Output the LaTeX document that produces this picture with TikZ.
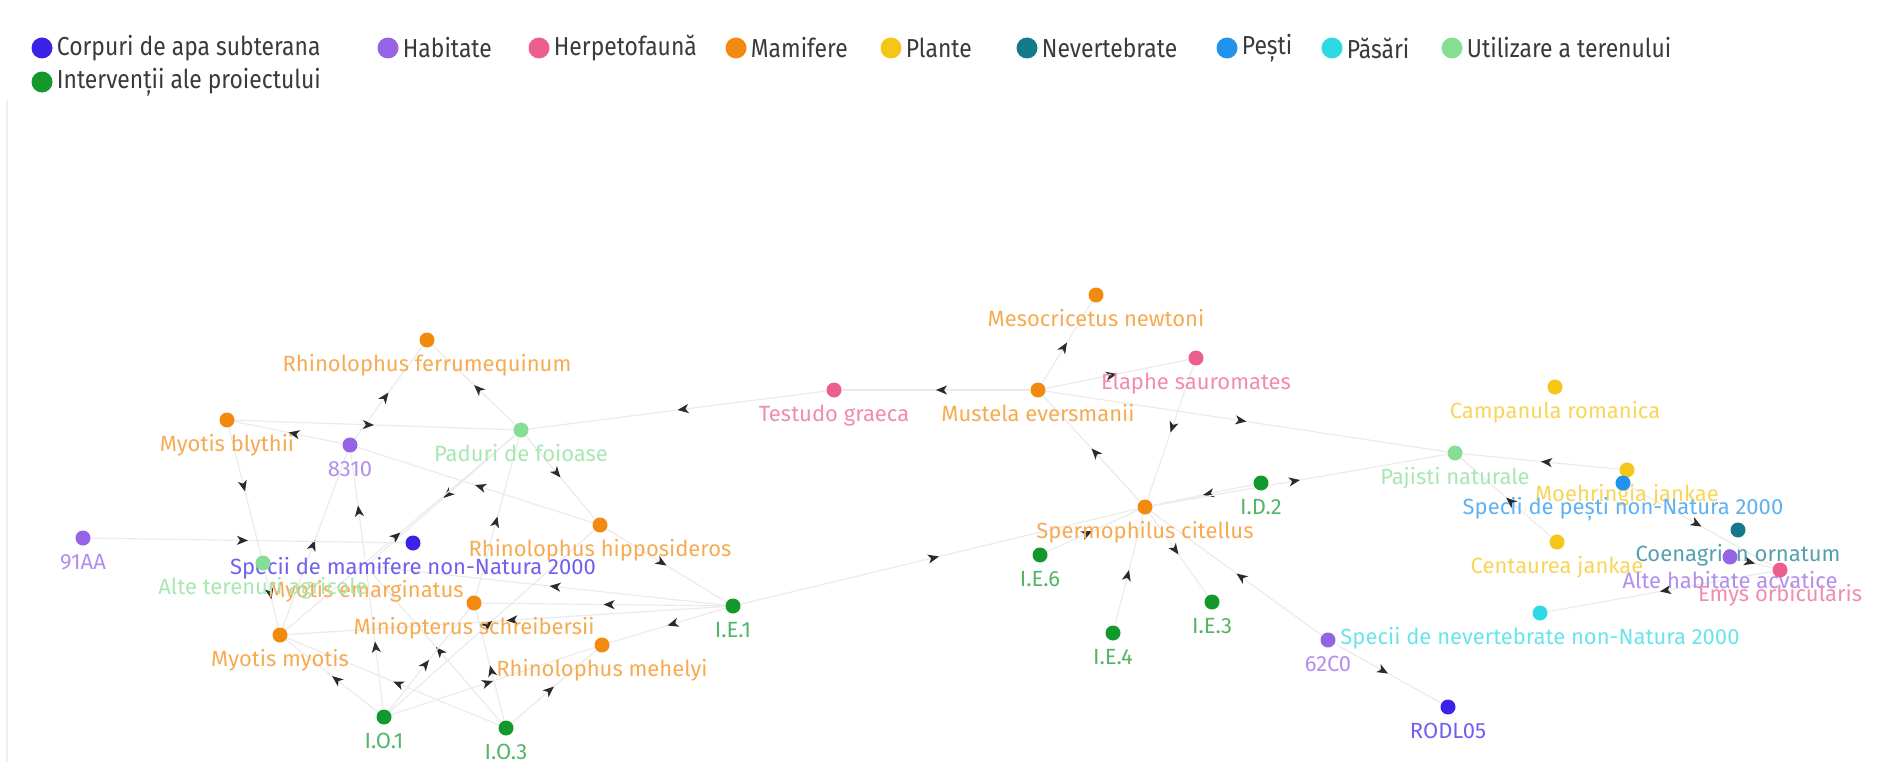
\documentclass[tikz,border=0pt]{standalone}
\usepackage{fontspec}
\setmainfont{Fira Sans}
\newfontfamily\legfont[FakeStretch=0.88]{Fira Sans}
\usetikzlibrary{positioning,arrows.meta,decorations.markings}
\definecolor{apa}{HTML}{3A22E6}
\definecolor{hab}{HTML}{9564E6}
\definecolor{herp}{HTML}{EC5F8C}
\definecolor{mam}{HTML}{F28A0F}
\definecolor{plant}{HTML}{F5C518}
\definecolor{nev}{HTML}{15798C}
\definecolor{pest}{HTML}{2094EC}
\definecolor{pas}{HTML}{2ED9E3}
\definecolor{util}{HTML}{86DE94}
\definecolor{interv}{HTML}{12982B}
\definecolor{edgegrey}{HTML}{EBEBEB}
\definecolor{arrowink}{HTML}{2B2B2B}
\definecolor{legink}{HTML}{3A3A3A}
\definecolor{frameline}{HTML}{EFEFEF}
\pgfdeclarelayer{edges}
\pgfsetlayers{edges,main}

\begin{document}
\begin{tikzpicture}[
  x=1pt, y=-1pt,
  font=\fontsize{22}{26}\selectfont,
  dot/.style    = {circle, fill=#1, minimum size=15pt, inner sep=0pt, label distance=0pt},
  hidden/.style = {circle, minimum size=15pt, inner sep=0pt, label distance=0pt},
  lbl/.style    = {text=#1!72!white, inner sep=0pt, text height=16pt, text depth=5pt, yshift=-8pt},
  legdot/.style = {circle, fill=#1, minimum size=21pt, inner sep=0pt},
  legtxt/.style = {text=legink, inner sep=0pt, font=\legfont\fontsize{26}{30}\selectfont},
  link/.style   = {draw=edgegrey, line width=1.2pt, postaction={decorate},
                   decoration={markings, mark=at position 0.5 with
                     {\arrow{Stealth[length=11pt,width=9pt,inset=3pt,color=arrowink]}}}},
]
\useasboundingbox (0,0) rectangle (1879,776);
\draw[frameline, line width=1.2pt] (7,100) -- (7,762);

% legend
\node[legdot=apa] (lg-apa) at (42,48) {};
\node[legtxt, right=4pt of lg-apa] {Corpuri de apa subterana};
\node[legdot=hab] (lg-hab) at (388,48) {};
\node[legtxt, right=4pt of lg-hab] {Habitate};
\node[legdot=herp] (lg-herp) at (539,48) {};
\node[legtxt, right=4pt of lg-herp] {Herpetofaună};
\node[legdot=mam] (lg-mam) at (736,48) {};
\node[legtxt, right=4pt of lg-mam] {Mamifere};
\node[legdot=plant] (lg-plant) at (891,48) {};
\node[legtxt, right=4pt of lg-plant] {Plante};
\node[legdot=nev] (lg-nev) at (1027,48) {};
\node[legtxt, right=4pt of lg-nev] {Nevertebrate};
\node[legdot=pest] (lg-pest) at (1227,48) {};
\node[legtxt, right=4pt of lg-pest] {Pești};
\node[legdot=pas] (lg-pas) at (1332,48) {};
\node[legtxt, right=4pt of lg-pas] {Păsări};
\node[legdot=util] (lg-util) at (1452,48) {};
\node[legtxt, right=4pt of lg-util] {Utilizare a terenului};
\node[legdot=interv] (lg-interv) at (42,82) {};
\node[legtxt, right=4pt of lg-interv] {Intervenții ale proiectului};

% left cluster
\node[hidden, label={[lbl=mam]below:Myotis emarginatus}] (myem) at (366,566) {};
\node[dot=mam, label={[lbl=mam]below:Rhinolophus ferrumequinum}] (rferr) at (427,340) {};
\node[dot=mam, label={[lbl=mam]below:Myotis blythii}] (mbly) at (227,420) {};
\node[dot=hab, label={[lbl=hab]below:8310}] (h8310) at (350,445) {};
\node[dot=util, label={[lbl=util]below:Paduri de foioase}] (pfoi) at (521,430) {};
\node[dot=hab, label={[lbl=hab]below:91AA}] (h91aa) at (83,538) {};
\node[dot=apa, label={[lbl=apa]below:Specii de mamifere non-Natura 2000}] (smam) at (413,543) {};
\node[dot=util, label={[lbl=util]below:Alte terenuri agricole}] (alter) at (263,563) {};
\node[dot=mam, label={[lbl=mam]below:Rhinolophus hipposideros}] (rhip) at (600,525) {};
\node[dot=mam, label={[lbl=mam]below:Miniopterus schreibersii}] (mschr) at (474,603) {};
\node[dot=mam, label={[lbl=mam]below:Myotis myotis}] (mmyo) at (280,635) {};
\node[dot=mam, label={[lbl=mam]below:Rhinolophus mehelyi}] (rmeh) at (602,645) {};
\node[dot=interv, label={[lbl=interv]below:I.E.1}] (ie1) at (733,606) {};
\node[dot=interv, label={[lbl=interv]below:I.O.1}] (io1) at (384,717) {};
\node[dot=interv, label={[lbl=interv]below:I.O.3}] (io3) at (506,728) {};

% middle cluster
\node[dot=mam, label={[lbl=mam]below:Mesocricetus newtoni}] (meso) at (1096,295) {};
\node[dot=herp, label={[lbl=herp]below:Elaphe sauromates}] (elap) at (1196,358) {};
\node[dot=herp, label={[lbl=herp]below:Testudo graeca}] (tgra) at (834,390) {};
\node[dot=mam, label={[lbl=mam]below:Mustela eversmanii}] (must) at (1038,390) {};
\node[dot=mam, label={[lbl=mam]below:Spermophilus citellus}] (sper) at (1145,507) {};
\node[dot=interv, label={[lbl=interv]below:I.D.2}] (id2) at (1261,483) {};
\node[dot=interv, label={[lbl=interv]below:I.E.6}] (ie6) at (1040,555) {};
\node[dot=interv, label={[lbl=interv]below:I.E.3}] (ie3) at (1212,602) {};
\node[dot=interv, label={[lbl=interv]below:I.E.4}] (ie4) at (1113,633) {};

% right cluster
\node[dot=plant, label={[lbl=plant]below:Campanula romanica}] (camp) at (1555,387) {};
\node[dot=util, label={[lbl=util]below:Pajisti naturale}] (pajn) at (1455,453) {};
\node[dot=plant, label={[lbl=plant]below:Moehringia jankae}] (moeh) at (1627,470) {};
\node[dot=pest, label={[lbl=pest]below:Specii de pești non-Natura 2000}] (spes) at (1623,483) {};
\node[dot=plant, label={[lbl=plant]below:Centaurea jankae}] (cent) at (1557,542) {};
\node[dot=nev, label={[lbl=nev]below:Coenagrion ornatum}] (coen) at (1738,530) {};
\node[dot=hab, label={[lbl=hab]below:Alte habitate acvatice}] (ahac) at (1730,557) {};
\node[dot=herp, label={[lbl=herp]below:Emys orbicularis}] (emys) at (1780,570) {};
\node[dot=pas, label={[lbl=pas]below:Specii de nevertebrate non-Natura 2000}] (snev) at (1540,613) {};
\node[dot=hab, label={[lbl=hab]below:62C0}] (h62c0) at (1328,640) {};
\node[dot=apa, label={[lbl=apa]below:RODL05}] (rodl) at (1448,707) {};

\begin{pgfonlayer}{edges}
% left links
\draw[link] (h8310) -- (rferr);
\draw[link] (pfoi) -- (rferr);
\draw[link] (mbly) -- (pfoi);
\draw[link] (h8310) -- (mbly);
\draw[link] (mbly) -- (alter);
\draw[link] (myem) -- (h8310);
\draw[link] (pfoi) -- (myem);
\draw[link] (rhip) -- (h8310);
\draw[link] (pfoi) -- (rhip);
\draw[link] (mschr) -- (pfoi);
\draw[link] (mmyo) -- (pfoi);
\draw[link] (mmyo) -- (h8310);
\draw[link] (h91aa) -- (smam);
\draw[link] (alter) -- (mmyo);
\draw[link] (tgra) -- (pfoi);
\draw[link] (rhip) -- (ie1);
\draw[link] (ie1) -- (myem);
\draw[link] (ie1) -- (mschr);
\draw[link] (ie1) -- (rmeh);
\draw[link] (ie1) -- (mmyo);
\draw[link] (io1) -- (rhip);
\draw[link] (io1) -- (myem);
\draw[link] (io3) -- (myem);
\draw[link] (io1) -- (mschr);
\draw[link] (io3) -- (mschr);
\draw[link] (io1) -- (mmyo);
\draw[link] (io3) -- (mmyo);
\draw[link] (io1) -- (rmeh);
\draw[link] (io3) -- (rmeh);
% middle links
\draw[link] (ie1) -- (sper);
\draw[link] (must) -- (meso);
\draw[link] (must) -- (elap);
\draw[link] (must) -- (tgra);
\draw[link] (elap) -- (sper);
\draw[link] (sper) -- (must);
\draw[link] (must) -- (pajn);
\draw[link] (id2) -- (sper);
\draw[link] (sper) -- (pajn);
\draw[link] (sper) -- (ie3);
\draw[link] (h62c0) -- (sper);
\draw[link] (ie4) -- (sper);
\draw[link] (ie6) -- (sper);
% right links
\draw[link] (moeh) -- (pajn);
\draw[link] (cent) -- (pajn);
\draw[link] (spes) -- (emys);
\draw[link] (ahac) -- (emys);
\draw[link] (emys) -- (snev);
\draw[link] (h62c0) -- (rodl);
\end{pgfonlayer}
\end{tikzpicture}
\end{document}
